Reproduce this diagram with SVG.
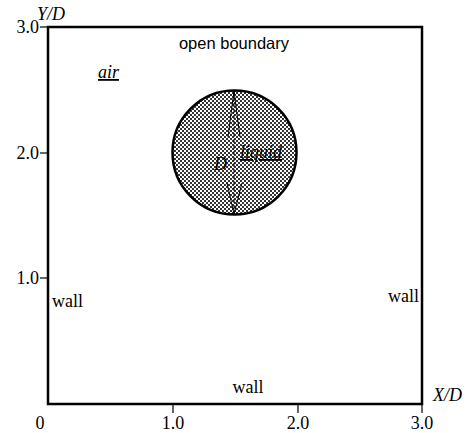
<svg xmlns="http://www.w3.org/2000/svg" width="475" height="433" viewBox="0 0 475 433">
<defs>
<pattern id="chk" width="4" height="4" patternUnits="userSpaceOnUse">
<rect width="4" height="4" fill="#fff"/>
<rect x="0" y="0" width="2" height="2" fill="#333"/>
<rect x="2" y="2" width="2" height="2" fill="#333"/>
</pattern>
</defs>
<style>
.ax{stroke:#000;stroke-width:2.5;fill:none}
.tk{stroke:#000;stroke-width:1.2}
.num{font-family:"Liberation Serif",serif;font-size:18px;fill:#000}
.it{font-family:"Liberation Serif",serif;font-style:italic;font-size:18px;fill:#000}
.lbl{font-family:"Liberation Serif",serif;font-size:18px;fill:#000}
.sans{font-family:"Liberation Sans",sans-serif;font-size:16.5px;fill:#000}
.arr{stroke:#000;stroke-width:1;fill:none}
</style>
<g id="axes">
<rect class="ax" x="48" y="27" width="374" height="377"/>
<line class="tk" x1="40" y1="27" x2="48" y2="27"/>
<line class="tk" x1="40" y1="153" x2="48" y2="153"/>
<line class="tk" x1="40" y1="278" x2="48" y2="278"/>
<line class="tk" x1="173" y1="404" x2="173" y2="413"/>
<line class="tk" x1="298" y1="404" x2="298" y2="413"/>
<line class="tk" x1="422" y1="404" x2="422" y2="413"/>
<text class="num" x="39" y="33" text-anchor="end">3.0</text>
<text class="num" x="39" y="159" text-anchor="end">2.0</text>
<text class="num" x="39" y="284" text-anchor="end">1.0</text>
<text class="num" x="40" y="429" text-anchor="middle">0</text>
<text class="num" x="173" y="429" text-anchor="middle">1.0</text>
<text class="num" x="298" y="429" text-anchor="middle">2.0</text>
<text class="num" x="422" y="429" text-anchor="middle">3.0</text>
<text class="it" x="37" y="20">Y/D</text>
<text class="it" x="433" y="401">X/D</text>
</g>
<g id="labels">
<text class="sans" x="234" y="49" text-anchor="middle">open boundary</text>
<text class="it" x="98" y="78" text-decoration="underline">air</text>
<text class="lbl" x="52" y="307">wall</text>
<text class="lbl" x="419" y="302" text-anchor="end">wall</text>
<text class="lbl" x="248" y="393" text-anchor="middle">wall</text>
</g>
<g id="droplet">
<circle cx="234.5" cy="152.5" r="62" fill="url(#chk)" stroke="#000" stroke-width="2.5"/>
<text class="it" x="240" y="158" font-size="19" text-decoration="underline">liquid</text>
<text class="it" x="214" y="170">D</text>
</g>
<g id="connectors">
<line class="arr" x1="234" y1="91" x2="234" y2="214" stroke-dasharray="4,2"/>
<polyline class="arr" points="228,137 234,91 240,137"/>
<polyline class="arr" points="227,183 234,214 242,183"/>
</g>
</svg>
